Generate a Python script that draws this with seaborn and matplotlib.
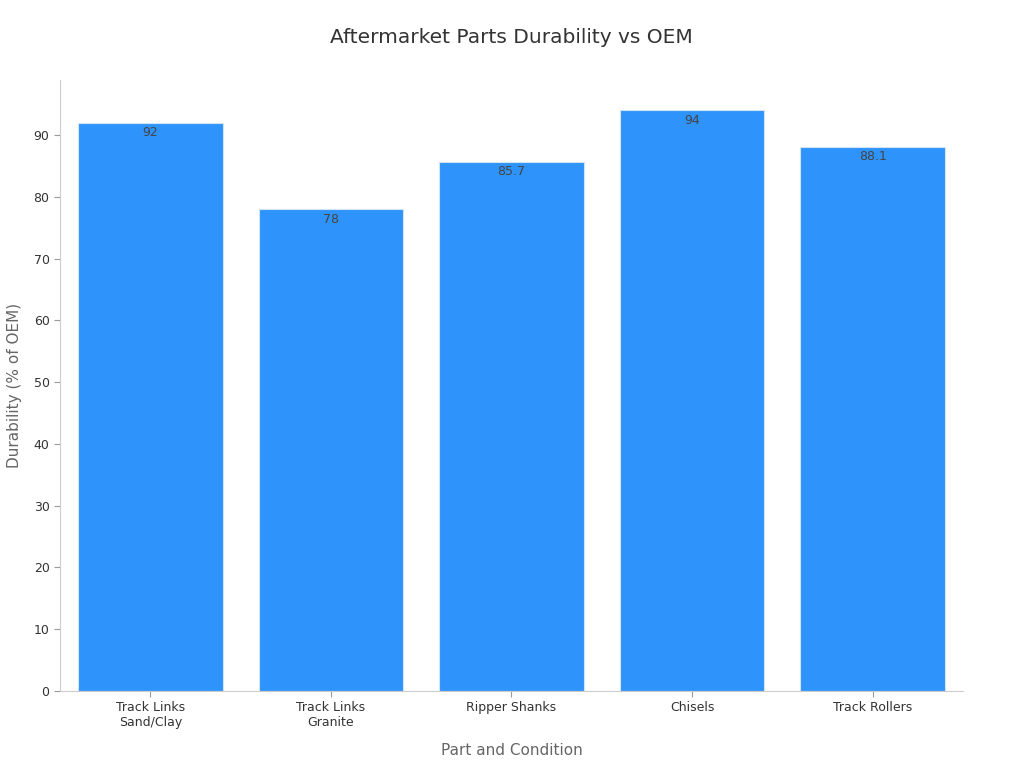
import pandas as pd
import seaborn as sns
import matplotlib.pyplot as plt

# data
parts = ["Track Links\nSand/Clay", "Track Links\nGranite", "Ripper Shanks", "Chisels", "Track Rollers"]
durability = [92, 78, 85.7, 94, 88.1]
value_labels = ["92", "78", "85.7", "94", "88.1"]

df = pd.DataFrame({"part": parts, "durability": durability})

sns.set_style("white")
plt.rcParams['font.family'] = ['DejaVu Sans']

fig = plt.figure(figsize=(10.24, 7.68), dpi=100)
ax = fig.add_axes([0.0586, 0.1003, 0.8818, 0.7955])

sns.barplot(data=df, x="part", y="durability", color="#2E93FA", saturation=1,
            width=0.8, edgecolor="#d0e4f7", linewidth=0.8, ax=ax)

for bar, lab in zip(ax.patches, value_labels):
    ax.text(bar.get_x() + bar.get_width() / 2, bar.get_height() - 0.6, lab,
            ha="center", va="top", fontsize=9, color="#444444")

ax.set_xlim(-0.5, 4.5)
ax.set_ylim(0, 98.9)
ax.set_yticks(range(0, 100, 10))

ax.set_title("Aftermarket Parts Durability vs OEM", fontsize=14.5, color="#333333", pad=27)
ax.set_xlabel("Part and Condition", fontsize=11, color="#666666", labelpad=10)
ax.set_ylabel("Durability (% of OEM)", fontsize=11, color="#666666", labelpad=8)

ax.tick_params(axis="both", bottom=True, left=True, labelsize=9, labelcolor="#333333",
               color="#999999", length=4, width=0.8)
for side in ["top", "right"]:
    ax.spines[side].set_visible(False)
for side in ["left", "bottom"]:
    ax.spines[side].set_color("#cccccc")
    ax.spines[side].set_linewidth(0.8)

fig.savefig("out.png", dpi=100)
